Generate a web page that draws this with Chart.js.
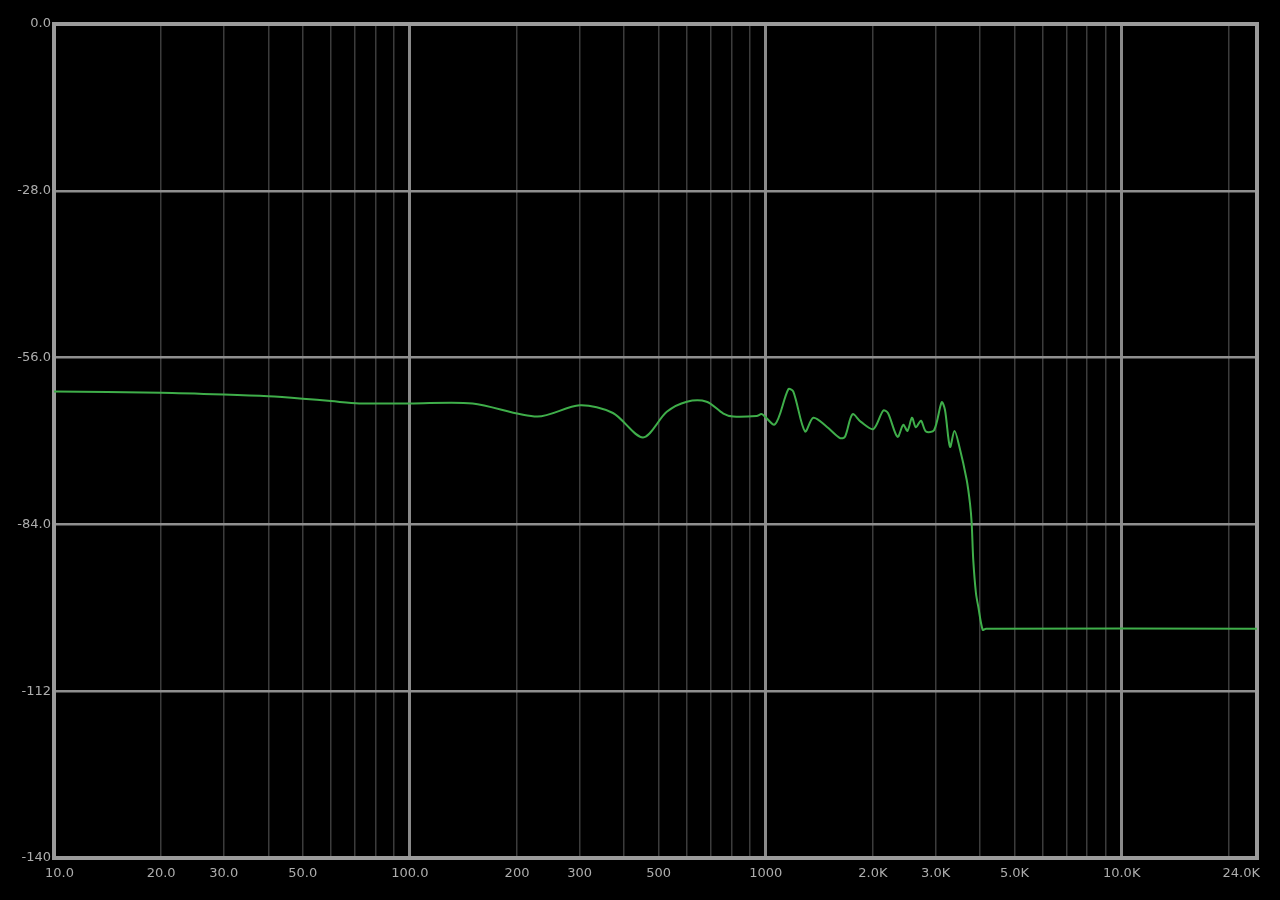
<!DOCTYPE html>
<html>
<head>
<meta charset="utf-8">
<script src="https://cdn.jsdelivr.net/npm/chart.js@4/dist/chart.umd.min.js"></script>
<style>
  html, body { margin: 0; padding: 0; background: #000; }
  #wrap { width: 1280px; height: 900px; position: relative; background: #000; }
</style>
</head>
<body>
<div id="wrap"><canvas id="c"></canvas></div>
<script>
// ---- data ----
const freqs = [10, 20, 30, 40, 50, 60, 72, 80, 100, 150, 228, 300, 372, 452, 527, 600, 682, 760, 810, 943, 975,
  1061, 1157, 1195, 1289, 1360, 1483, 1616, 1669, 1752, 1851, 2005, 2138, 2204, 2344, 2434, 2501, 2575, 2640,
  2729, 2818, 2970, 3121, 3188, 3293, 3390, 3491, 3668, 3748, 3789, 3828, 3896, 3954, 4068, 4156, 24000];
const levels = [-61.7, -61.9, -62.2, -62.5, -62.9, -63.3, -63.7, -63.7, -63.7, -63.7, -65.9, -64.0, -65.3, -69.4,
  -65.1, -63.4, -63.4, -65.4, -65.9, -65.8, -65.5, -67.2, -61.3, -61.7, -68.4, -66.1, -67.6, -69.5, -69.3, -65.5,
  -66.8, -68.0, -64.9, -65.3, -69.3, -67.3, -68.3, -66.1, -67.7, -66.6, -68.4, -68.2, -63.5, -64.8, -71.0, -68.3,
  -70.7, -76.5, -80.5, -83.8, -90.0, -95.6, -97.8, -101.7, -101.5, -101.5];

const xTickValues = [10, 20, 30, 40, 50, 60, 70, 80, 90, 100, 200, 300, 400, 500, 600, 700, 800, 900,
  1000, 2000, 3000, 4000, 5000, 6000, 7000, 8000, 9000, 10000, 20000, 24000];
const xLabelValues = [10, 20, 30, 50, 100, 200, 300, 500, 1000, 2000, 3000, 5000, 10000, 24000];
const xLabelTexts = ['10.0', '20.0', '30.0', '50.0', '100.0', '200', '300', '500', '1000', '2.0K', '3.0K', '5.0K', '10.0K', '24.0K'];
const xMajorValues = [10, 100, 1000, 10000];

const yTickValues = [-140, -112, -84, -56, -28, 0];
const yTickLabels = ['-140', '-112', '-84.0', '-56.0', '-28.0', '0.0'];

// ---- chart ----
const TEXT = '#adadad';
const FONT = { family: 'DejaVu Sans', size: 13, weight: 'normal' };

const frame = {
  id: 'frame',
  beforeDraw(chart) {
    const xs = chart.scales.x;
    const items = xs.getLabelItems();
    const a = chart.chartArea;
    const nonEmpty = items.filter(it => it.label !== '');
    if (nonEmpty.length) {
      const first = nonEmpty[0], last = nonEmpty[nonEmpty.length - 1];
      first.options.textAlign = 'left';
      first.options.translation[0] = a.left - 9;
      last.options.textAlign = 'right';
      last.options.translation[0] = a.right + 3;
    }
  },
  beforeDatasetsDraw(chart) {
    const { ctx, chartArea: a } = chart;
    ctx.save();
    ctx.strokeStyle = '#9b9b9b';
    ctx.lineWidth = 4;
    ctx.strokeRect(a.left, a.top, a.right - a.left, a.bottom - a.top);
    ctx.restore();
  }
};

new Chart(document.getElementById('c'), {
  type: 'line',
  data: {
    datasets: [{
      data: freqs.map((f, i) => ({ x: f, y: levels[i] })),
      borderColor: '#3fae4a',
      borderWidth: 2,
      pointRadius: 0,
      tension: 0.3,
      borderJoinStyle: 'round',
      fill: false
    }]
  },
  options: {
    responsive: true,
    maintainAspectRatio: false,
    animation: false,
    layout: { padding: { left: 0, right: 23, top: 24, bottom: 0 } },
    plugins: { legend: { display: false }, tooltip: { enabled: false } },
    scales: {
      x: {
        type: 'logarithmic',
        min: 10,
        max: 24000,
        afterBuildTicks: s => { s.ticks = xTickValues.map(v => ({ value: v })); },
        afterFit: s => { s.height = 42; s.paddingLeft = 0; s.paddingRight = 0; },
        border: { display: false },
        grid: {
          drawTicks: false,
          color: c => (c.tick && xMajorValues.includes(c.tick.value)) ? '#8a8a8a' : '#3c3c3c',
          lineWidth: c => (c.tick && xMajorValues.includes(c.tick.value)) ? 3 : 1.5
        },
        ticks: {
          autoSkip: false,
          maxRotation: 0,
          minRotation: 0,
          padding: 8,
          color: TEXT,
          font: FONT,
          callback: v => {
            const i = xLabelValues.indexOf(v);
            return i >= 0 ? xLabelTexts[i] : '';
          }
        }
      },
      y: {
        type: 'linear',
        min: -140,
        max: 0,
        afterBuildTicks: s => { s.ticks = yTickValues.map(v => ({ value: v })); },
        afterFit: s => { s.width = 54; s.paddingTop = 0; s.paddingBottom = 0; },
        border: { display: false },
        grid: {
          drawTicks: false,
          color: '#8f8f8f',
          lineWidth: 2.5
        },
        ticks: {
          padding: 3,
          color: TEXT,
          font: FONT,
          callback: v => {
            const i = yTickValues.indexOf(v);
            return i >= 0 ? yTickLabels[i] : '';
          }
        }
      }
    }
  },
  plugins: [frame]
});
</script>
</body>
</html>
